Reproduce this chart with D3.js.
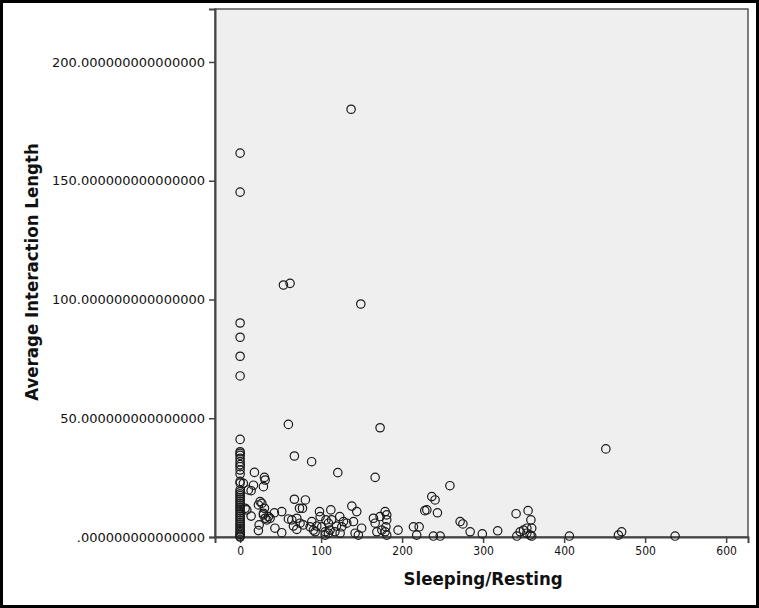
<!DOCTYPE html>
<html>
<head>
<meta charset="utf-8">
<script src="https://d3js.org/d3.v7.min.js"></script>
<style>
    body { margin: 0; background: #fff; }
    .tick text { fill: #111; }
</style>
</head>
<body>
<div id="chart-area"></div>
<script>
// Sleeping/Resting (x) vs Average Interaction Length (y), one entry per point
var sleeping = [
    0, 0, 0, 0, 0, 0, 0, 0, 0, 0, 0, 0, 0, 0, 0, 0, 0, 0, 0, 0, 0, 0, 0,
    0, 0, 0, 0, 0, 0, 0, 0, 0, 0, 0, 0, 0, 0, 0, 0, 0, 0, 0, 0, 0, 0,
    4, 6.2, 8.2, 10.2, 13.6, 13.6, 16.5, 17.7, 22.6, 23.5, 22.6, 24.7, 26.8, 28.8,
    30, 30.9, 30, 28.8, 28.8, 30.9, 35, 33, 37, 42.3, 43, 51.4, 51.4, 53.5, 59.6,
    61.7, 59.6, 63.8, 67, 67, 65.8, 70, 70, 73.3, 74, 77, 78, 80.6, 88.3, 88.5,
    86.4, 90.5, 92.6, 94.7, 98, 98.8, 100.8, 105, 105, 106, 109, 109, 111, 112,
    113, 117, 119, 120.6, 123, 123.5, 125.5, 127.6, 131.7, 137, 137.9, 140, 142,
    144, 146, 149, 150, 164.6, 166.7, 166.7, 168.8, 172.8, 172.8, 175, 179, 181,
    181, 180, 179, 181, 195, 214, 218, 221, 228, 230.5, 236.6, 240.7, 243.6,
    238.6, 247, 259, 271.6, 275, 284, 299, 318, 340.7, 341.6, 345.7, 349.8, 354,
    354, 355.5, 359, 360, 358, 360, 406.5, 451.5, 467, 471, 537
];
var interaction = [
    0, 0.4, 1, 1.6, 2.3, 3, 3.8, 4.6, 5.4, 6.2, 7, 7.8, 8.6, 9.4, 10.2, 11, 11.8,
    12.6, 13.4, 14.2, 15, 15.8, 16.6, 17.4, 18.2, 19, 19.8, 22.7, 23.4, 26.5, 28.2,
    29.6, 30.5, 31.7, 33.1, 34.4, 35.2, 35.9, 41.1, 67.8, 76.1, 84.1, 90.1, 145.2,
    161.6,
    22.6, 12.1, 11.4, 19.8, 19.5, 8.8, 21.8, 27.2, 13.5, 5.1, 2.7, 14.9, 14.2, 21.2,
    25.1, 24, 12.1, 10, 9.3, 7.9, 8.6, 7.2, 7.9, 10.2, 3.7, 10.7, 1.8, 106.1, 47.4,
    106.8, 7.6, 7.2, 34.1, 15.9, 4.6, 7.9, 3.2, 12.1, 5.8, 12.1, 5.1, 15.6, 31.7, 6.5,
    4.3, 2.9, 2.2, 4.6, 10.7, 8.6, 4.3, 2.2, 0.8, 7.2, 5.8, 1.6, 2.9, 11.4,
    7.2, 2.2, 4.6, 27.1, 8.6, 1.6, 4.3, 6.5, 5.8, 180.1, 13, 6.5, 1.6,
    10.7, 0.8, 98.1, 3.7, 7.9, 25.1, 5.8, 2.2, 46, 8.6, 2.9, 10.7, 9.3,
    7.2, 4.3, 2.2, 0.8, 2.9, 4.3, 0.8, 4.3, 11.1, 11.4, 17, 15.6, 10.2,
    0.4, 0.4, 21.6, 6.5, 5.5, 2.2, 1.3, 2.6, 9.8, 0.4, 2.2, 2.9, 3.7,
    1.6, 11.1, 7.2, 3.7, 0.8, 0.4, 0.4, 37.1, 0.8, 2.2, 0.4
];
var xTicks = [0, 100, 200, 300, 400, 500, 600];
var yTicks = [0, 50, 100, 150, 200];

var svgWidth = 759, svgHeight = 608;
var margin = { left: 215, right: 11, top: 9, bottom: 71 };
var width = svgWidth - margin.left - margin.right,
    height = svgHeight - margin.top - margin.bottom;

var data = sleeping.map(function(s, i) {
    return { sleep: s, inter: interaction[i] };
});

var svg = d3.select("#chart-area")
    .append("svg")
        .attr("width", svgWidth)
        .attr("height", svgHeight);

// outer black frame
svg.append("rect")
    .attr("x", 1.5)
    .attr("y", 1.5)
    .attr("width", svgWidth - 3)
    .attr("height", svgHeight - 3)
    .attr("fill", "none")
    .attr("stroke", "#000")
    .attr("stroke-width", 3);

var g = svg.append("g")
    .attr("transform", "translate(" + margin.left + ", " + margin.top + ")");

// X Scale
var x = d3.scaleLinear()
    .domain([-31, 627])
    .range([0, width]);

// Y Scale
var y = d3.scaleLinear()
    .domain([0, 222.3])
    .range([height, 0]);

// plot background
g.append("rect")
    .attr("width", width)
    .attr("height", height)
    .attr("fill", "#efefef")
    .attr("stroke", "#555")
    .attr("stroke-width", 1.5);

// X Axis
var xAxisCall = d3.axisBottom(x)
    .tickValues(xTicks)
    .tickSizeOuter(0)
    .tickSize(6)
    .tickPadding(3);
var xAxisGroup = g.append("g")
    .attr("class", "x axis")
    .attr("transform", "translate(0," + height + ")")
    .call(xAxisCall);
xAxisGroup.selectAll("text")
    .attr("font-family", "DejaVu Sans Condensed, DejaVu Sans, sans-serif")
    .attr("font-size", "12px");

// Y Axis
var yAxisCall = d3.axisLeft(y)
    .tickValues(yTicks)
    .tickSizeOuter(0)
    .tickSize(6)
    .tickPadding(4)
    .tickFormat(function(d) { return d === 0 ? ".000000000000000" : d.toFixed(15); });
var yAxisGroup = g.append("g")
    .attr("class", "y axis")
    .call(yAxisCall);
yAxisGroup.selectAll("text")
    .attr("font-family", "DejaVu Sans, sans-serif")
    .attr("font-size", "13px");

g.selectAll(".axis path").attr("stroke", "#444").attr("stroke-width", 2);
g.selectAll(".axis line").attr("stroke", "#444").attr("stroke-width", 1.5);

// points
g.selectAll("circle")
    .data(data)
    .enter()
    .append("circle")
        .attr("cx", function(d) { return x(d.sleep); })
        .attr("cy", function(d) { return y(d.inter); })
        .attr("r", 4.2)
        .attr("fill", "none")
        .attr("stroke", "#1a1a1a")
        .attr("stroke-width", 1.2);

// X Label
g.append("text")
    .attr("x", x(300))
    .attr("y", height + 48)
    .attr("font-size", "18.5px")
    .attr("font-weight", "bold")
    .attr("font-family", "DejaVu Sans Condensed, DejaVu Sans, sans-serif")
    .attr("text-anchor", "middle")
    .attr("fill", "#111")
    .text("Sleeping/Resting");

// Y Label
g.append("text")
    .attr("x", -(272 - margin.top))
    .attr("y", -177)
    .attr("font-size", "18.5px")
    .attr("font-weight", "bold")
    .attr("font-family", "DejaVu Sans Condensed, DejaVu Sans, sans-serif")
    .attr("text-anchor", "middle")
    .attr("fill", "#111")
    .attr("transform", "rotate(-90)")
    .text("Average Interaction Length");
</script>
</body>
</html>
